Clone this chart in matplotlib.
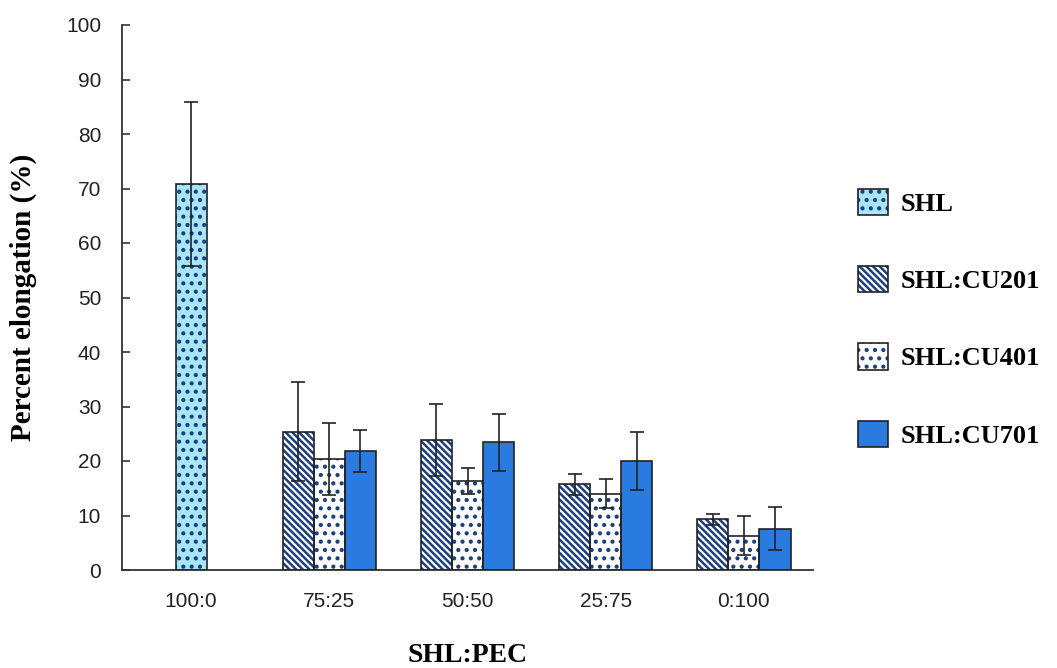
import numpy as np
import matplotlib
matplotlib.use("Agg")
import matplotlib.pyplot as plt

# data
categories = ["100:0", "75:25", "50:50", "25:75", "0:100"]
shl = [70.8]
shl_err = [15.1]
cu201 = [25.4, 23.9, 15.7, 9.3]
cu201_err = [9.1, 6.6, 1.9, 1.0]
cu401 = [20.3, 16.3, 14.0, 6.3]
cu401_err = [6.6, 2.4, 2.7, 3.6]
cu701 = [21.8, 23.4, 20.0, 7.6]
cu701_err = [3.9, 5.2, 5.4, 3.9]

navy = "#1b3f7e"
plt.rcParams["hatch.linewidth"] = 1.8

fig = plt.figure(figsize=(10.57, 6.68), dpi=100)
ax = fig.add_axes([122 / 1057, 98 / 668, 691 / 1057, 545 / 668])

w = 0.225
x = np.arange(len(categories))
xg = x[1:]

def draw(pos, vals, errs, face, hatch):
    # hatch layer first, then the black outline on top
    h = ax.bar(pos, vals, w, color=face, edgecolor=navy if hatch else face,
               hatch=hatch, linewidth=0, zorder=2)
    o = ax.bar(pos, vals, w, fill=False, edgecolor="#222222", linewidth=1.2, zorder=3)
    ax.errorbar(pos, vals, yerr=errs, fmt="none", ecolor="#222222",
                elinewidth=1.2, capsize=4.7, capthick=1.2, zorder=4)
    return (h[0], o[0])

h_shl = draw(x[:1], shl, shl_err, "#a8e6f7", "..")
h_201 = draw(xg - w, cu201, cu201_err, "white", "\\" * 5)
h_401 = draw(xg, cu401, cu401_err, "white", "..")
h_701 = draw(xg + w, cu701, cu701_err, "#2a7be0", None)

ax.set_xlim(-0.5, len(categories) - 0.5)
ax.set_ylim(0, 100)
ax.set_yticks(np.arange(0, 101, 10))
ax.set_xticks(x)
ax.set_xticklabels(categories)
for s in ["top", "right"]:
    ax.spines[s].set_visible(False)
for s in ["left", "bottom"]:
    ax.spines[s].set_color("#333333")
    ax.spines[s].set_linewidth(1.3)
ax.tick_params(axis="y", direction="in", length=5.5, width=1.2, color="#333333",
               pad=15, labelsize=15, labelcolor="#222222")
ax.tick_params(axis="x", length=0, pad=16, labelsize=15, labelcolor="#222222")
for lab in ax.get_xticklabels() + ax.get_yticklabels():
    lab.set_fontfamily("Liberation Sans")

fig.text(23 / 1057, 1 - 297.5 / 668, "Percent elongation (%)", rotation=90,
         ha="center", va="center", fontsize=21, fontweight="bold",
         family="Liberation Serif")
fig.text(467.5 / 1057, 1 - 655 / 668, "SHL:PEC", ha="center", va="center",
         fontsize=20, fontweight="bold", family="Liberation Serif")

fig.legend([h_shl, h_201, h_401, h_701],
           ["SHL", "SHL:CU201", "SHL:CU401", "SHL:CU701"],
           loc="upper left", bbox_to_anchor=(858 / 1057, 1 - 189 / 668),
           frameon=False, borderpad=0, borderaxespad=0,
           handlelength=1.15, handleheight=1.15, handletextpad=0.45,
           labelspacing=1.9,
           prop={"family": "Liberation Serif", "weight": "bold", "size": 19})

fig.savefig("out.png", dpi=100)
